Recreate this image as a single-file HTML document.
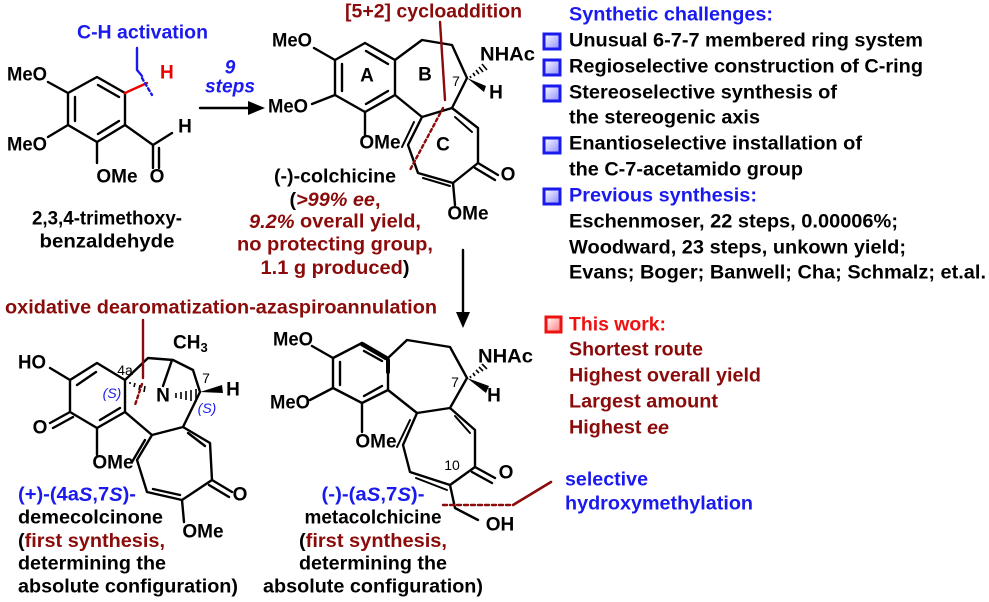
<!DOCTYPE html>
<html><head><meta charset="utf-8"><style>
html,body{margin:0;padding:0;background:#fff;}
svg{display:block;}
text{font-family:"Liberation Sans",Arial,sans-serif;font-weight:bold;font-size:19px;dominant-baseline:central;}
.b{fill:#1a1aee}.r{fill:#8b0a0a}.k{fill:#000}
.s{font-size:14px;font-weight:normal}
</style></head><body>
<svg width="989" height="602" viewBox="0 0 989 602" xmlns="http://www.w3.org/2000/svg">
<defs>
<linearGradient id="gb" x1="0" y1="0" x2="1" y2="1"><stop offset="0" stop-color="#fff"/><stop offset="1" stop-color="#8a8aff"/></linearGradient>
<linearGradient id="gr" x1="0" y1="0" x2="1" y2="1"><stop offset="0" stop-color="#fff"/><stop offset="1" stop-color="#ff7a7a"/></linearGradient>
</defs>
<g stroke="#000" stroke-width="2.4" fill="none" stroke-linecap="round" stroke-linejoin="round">
<path d="M97,77 L125,93 L125,125 L97,142 L68,125 L68,93 Z"/>
<path d="M98,85 L119,97 M119,121 L98,134 M75,97 L75,121"/>
<path d="M68,93 L48,82 M68,125 L48,137 M97,142 L97,163 M125,125 L153,145 L172,133 M153,145 L153,168 M159,148 L159,168"/>
<path d="M200,108 L252,108"/>
<path d="M365,43 L395,60 L395,95 L365,112 L335,95 L335,60 Z"/>
<path d="M366,51 L388,64 M388,91 L366,104 M342,64 L342,91"/>
<path d="M335,60 L314,48 M335,95 L312,104 M365,112 L365,135"/>
<path d="M395,60 L422,40 L452,45 L467,78 L452,108 L422,117 L395,95"/>
<path d="M422,117 L408,145 L418,173 L453,183 L478,163 L478,128 L452,108"/>
<path d="M414,122 L402,147 M455,117 L472,132 M423,178 L450,186" stroke-width="2"/>
<path d="M478,163 L498,175 M475,168 L495,180" />
<path d="M453,183 L455,205"/>
<path d="M463,250 L463,318"/>
<path d="M70,380 L97,363 L125,380 L125,412 L97,428 L70,412 Z"/>
<path d="M77,385 L96,372 M120,408 L100,420"/>
<path d="M70,380 L50,368 M70,412 L50,423 M73,417 L53,428 M97,428 L97,455"/>
<path d="M125,380 L148,358 L173,360 L193,370 L200,392 L183,427 L152,435 L125,412"/>
<path d="M163,386 L172,360"/>
<path d="M152,435 L137,460 L147,492 L182,500 L212,480 L210,443 L183,427"/>
<path d="M145,440 L132,462 M153,489 L180,495 M188,433 L205,446"/>
<path d="M212,480 L232,492 M209,485 L229,497 M182,500 L184,522"/>
<path d="M362,343 L388,358 L388,390 L362,403 L333,388 L333,358 Z"/>
<path d="M364,351 L382,361 M382,386 L364,396 M340,362 L340,385"/>
<path d="M333,358 L312,346 M333,388 L310,400 M362,403 L362,432"/>
<path d="M388,358 L407,340 L450,347 L467,378 L450,408 L417,413 L388,390"/>
<path d="M417,413 L403,445 L410,472 L450,485 L475,467 L475,430 L450,408"/>
<path d="M410,420 L397,447 M416,478 L447,490 M455,416 L470,433" stroke-width="2"/>
<path d="M475,467 L495,478 M472,472 L492,483 M450,485 L455,508 L478,520"/>
<path d="M362,344 L386,358" stroke-width="4.5"/>
<path d="M388,360 L388,372" stroke-width="4"/>
</g>
<g fill="#000">
<polygon points="467,78 486,86 484,92"/>
<polygon points="467,378 489,386 486,393"/>
<polygon points="200,392 222,385 223,393"/>
</g>
<g stroke="#000" stroke-width="1.6">
<path d="M470,76 L471,78 M473,73 L475,76 M476,70 L479,74 M479,67 L483,72 M482,64 L487,70"/>
<path d="M470,376 L471,378 M473,373 L475,376 M476,370 L479,373 M479,367 L483,371 M482,364 L487,369"/>
<path d="M176,393 L176,398 M181,392 L181,399 M186,391 L186,400 M191,390 L191,401 M196,389 L196,402"/>
<path d="M130,382 L130,384 M135,383 L134,387 M140,385 L139,390 M145,386 L144,392"/>
</g>
<g fill="none" stroke-linecap="round">
<path d="M125,93 L147,83" stroke="#e00" stroke-width="2.4"/>
<path d="M137,48 L137,70 L142,76" stroke="#1a1aee" stroke-width="2.4"/>
<path d="M142,78 L152,95" stroke="#1a1aee" stroke-width="2.4" stroke-dasharray="3,3"/>
<path d="M440,22 L445,100" stroke="#8b0a0a" stroke-width="2.4"/>
<path d="M443,108 L410,170" stroke="#8b0a0a" stroke-width="2.4" stroke-dasharray="3,3"/>
<path d="M143,320 L143,378" stroke="#8b0a0a" stroke-width="2.4"/>
<path d="M142,384 L135,405" stroke="#8b0a0a" stroke-width="2.4" stroke-dasharray="3,3"/>
<path d="M443,505 L513,505" stroke="#8b0a0a" stroke-width="2.4" stroke-dasharray="4,3"/>
<path d="M513,505 L551,482" stroke="#8b0a0a" stroke-width="2.6"/>
</g>
<polygon points="265,108 248,101 248,115" fill="#000"/>
<polygon points="463,328 456,312 470,312" fill="#000"/>
<g stroke="#1a1aee" stroke-width="3" fill="url(#gb)">
<rect x="544" y="34" width="16" height="15"/>
<rect x="544" y="60" width="16" height="15"/>
<rect x="544" y="86" width="16" height="15"/>
<rect x="544" y="138" width="16" height="15"/>
<rect x="544" y="189" width="16" height="15"/>
</g>
<rect x="546" y="317" width="15" height="15" stroke="#ee1111" stroke-width="3" fill="url(#gr)"/>

<text x="77" y="33" class="b" textLength="131" lengthAdjust="spacingAndGlyphs">C-H activation</text>
<text x="160" y="73" fill="#e00">H</text>
<text x="7" y="75" class="k" textLength="40" lengthAdjust="spacingAndGlyphs">MeO</text>
<text x="7" y="145" class="k" textLength="40" lengthAdjust="spacingAndGlyphs">MeO</text>
<text x="117" y="177" class="k" text-anchor="middle">OMe</text>
<text x="157" y="177" class="k" text-anchor="middle">O</text>
<text x="185" y="127" class="k" text-anchor="middle">H</text>
<text x="230" y="68" class="b" text-anchor="middle" font-style="italic">9</text>
<text x="230" y="87" class="b" text-anchor="middle" font-style="italic" textLength="50" lengthAdjust="spacingAndGlyphs">steps</text>
<text x="107" y="219" class="k" text-anchor="middle" textLength="150" lengthAdjust="spacingAndGlyphs">2,3,4-trimethoxy-</text>
<text x="107" y="242" class="k" text-anchor="middle" textLength="135" lengthAdjust="spacingAndGlyphs">benzaldehyde</text>

<text x="345" y="12" class="r" textLength="177" lengthAdjust="spacingAndGlyphs">[5+2] cycloaddition</text>
<text x="272" y="41" class="k" textLength="40" lengthAdjust="spacingAndGlyphs">MeO</text>
<text x="268" y="107" class="k" textLength="40" lengthAdjust="spacingAndGlyphs">MeO</text>
<text x="380" y="143" class="k" text-anchor="middle">OMe</text>
<text x="367" y="76" class="k" text-anchor="middle">A</text>
<text x="425" y="75" class="k" text-anchor="middle">B</text>
<text x="443" y="145" class="k" text-anchor="middle">C</text>
<text x="456" y="81" class="s" text-anchor="middle">7</text>
<text x="480" y="55" class="k" textLength="55" lengthAdjust="spacingAndGlyphs">NHAc</text>
<text x="496" y="93" class="k" text-anchor="middle">H</text>
<text x="508" y="175" class="k" text-anchor="middle">O</text>
<text x="468" y="214" class="k" text-anchor="middle">OMe</text>
<text x="335" y="177" class="k" text-anchor="middle" textLength="122" lengthAdjust="spacingAndGlyphs">(-)-colchicine</text>
<text x="335" y="200" text-anchor="middle" textLength="91" lengthAdjust="spacingAndGlyphs"><tspan class="k">(</tspan><tspan class="r" font-style="italic">&gt;99% ee</tspan><tspan class="r">,</tspan></text>
<text x="335" y="222" class="r" text-anchor="middle" textLength="172" lengthAdjust="spacingAndGlyphs"><tspan font-style="italic">9.2%</tspan> overall yield,</text>
<text x="335" y="245" class="r" text-anchor="middle" textLength="196" lengthAdjust="spacingAndGlyphs">no protecting group,</text>
<text x="335" y="268" text-anchor="middle" textLength="149" lengthAdjust="spacingAndGlyphs"><tspan class="r">1.1 g produced</tspan><tspan class="k">)</tspan></text>

<text x="569" y="15" class="b" textLength="204" lengthAdjust="spacingAndGlyphs">Synthetic challenges:</text>
<text x="569" y="41" class="k" textLength="354" lengthAdjust="spacingAndGlyphs">Unusual 6-7-7 membered ring system</text>
<text x="569" y="67" class="k" textLength="354" lengthAdjust="spacingAndGlyphs">Regioselective construction of C-ring</text>
<text x="569" y="93" class="k" textLength="268" lengthAdjust="spacingAndGlyphs">Stereoselective synthesis of</text>
<text x="569" y="118" class="k" textLength="191" lengthAdjust="spacingAndGlyphs">the stereogenic axis</text>
<text x="569" y="144" class="k" textLength="293" lengthAdjust="spacingAndGlyphs">Enantioselective installation of</text>
<text x="569" y="170" class="k" textLength="234" lengthAdjust="spacingAndGlyphs">the C-7-acetamido group</text>
<text x="569" y="196" class="b" textLength="188" lengthAdjust="spacingAndGlyphs">Previous synthesis:</text>
<text x="569" y="222" class="k" textLength="329" lengthAdjust="spacingAndGlyphs">Eschenmoser, 22 steps, 0.00006%;</text>
<text x="569" y="248" class="k" textLength="337" lengthAdjust="spacingAndGlyphs">Woodward, 23 steps, unkown yield;</text>
<text x="569" y="273" class="k" textLength="417" lengthAdjust="spacingAndGlyphs">Evans; Boger; Banwell; Cha; Schmalz; et.al.</text>

<text x="569" y="325" fill="#ee1111" textLength="97" lengthAdjust="spacingAndGlyphs">This work:</text>
<text x="569" y="350" class="r" textLength="134" lengthAdjust="spacingAndGlyphs">Shortest route</text>
<text x="569" y="376" class="r" textLength="192" lengthAdjust="spacingAndGlyphs">Highest overall yield</text>
<text x="569" y="402" class="r" textLength="149" lengthAdjust="spacingAndGlyphs">Largest amount</text>
<text x="569" y="428" class="r" textLength="100" lengthAdjust="spacingAndGlyphs">Highest <tspan font-style="italic">ee</tspan></text>
<text x="565" y="480" class="b" textLength="83" lengthAdjust="spacingAndGlyphs">selective</text>
<text x="565" y="504" class="b" textLength="188" lengthAdjust="spacingAndGlyphs">hydroxymethylation</text>

<text x="5" y="308" class="r" textLength="432" lengthAdjust="spacingAndGlyphs">oxidative dearomatization-azaspiroannulation</text>
<text x="18" y="363" class="k" textLength="28" lengthAdjust="spacingAndGlyphs">HO</text>
<text x="40" y="428" class="k" text-anchor="middle">O</text>
<text x="113" y="463" class="k" text-anchor="middle">OMe</text>
<text x="125" y="370" class="s" text-anchor="middle">4a</text>
<text x="112" y="393" class="s b" text-anchor="middle" font-style="italic">(S)</text>
<text x="173" y="343" class="k">CH<tspan font-size="13" dy="4">3</tspan></text>
<text x="163" y="396" class="k" text-anchor="middle">N</text>
<text x="206" y="378" class="s" text-anchor="middle">7</text>
<text x="207" y="408" class="s b" text-anchor="middle" font-style="italic">(S)</text>
<text x="233" y="390" class="k" text-anchor="middle">H</text>
<text x="240" y="495" class="k" text-anchor="middle">O</text>
<text x="203" y="532" class="k" text-anchor="middle">OMe</text>
<text x="18" y="495" class="b" textLength="118" lengthAdjust="spacingAndGlyphs">(+)-(4a<tspan font-style="italic">S</tspan>,7<tspan font-style="italic">S</tspan>)-</text>
<text x="18" y="518" class="k" textLength="145" lengthAdjust="spacingAndGlyphs">demecolcinone</text>
<text x="18" y="541" textLength="147" lengthAdjust="spacingAndGlyphs"><tspan class="k">(</tspan><tspan class="r">first synthesis,</tspan></text>
<text x="18" y="564" class="k" textLength="148" lengthAdjust="spacingAndGlyphs">determining the</text>
<text x="18" y="587" class="k" textLength="220" lengthAdjust="spacingAndGlyphs">absolute configuration)</text>

<text x="273" y="340" class="k" textLength="40" lengthAdjust="spacingAndGlyphs">MeO</text>
<text x="270" y="403" class="k" textLength="40" lengthAdjust="spacingAndGlyphs">MeO</text>
<text x="376" y="442" class="k" text-anchor="middle">OMe</text>
<text x="478" y="357" class="k" textLength="55" lengthAdjust="spacingAndGlyphs">NHAc</text>
<text x="455" y="382" class="s" text-anchor="middle">7</text>
<text x="494" y="396" class="k" text-anchor="middle">H</text>
<text x="452" y="465" class="s" text-anchor="middle">10</text>
<text x="506" y="473" class="k" text-anchor="middle">O</text>
<text x="500" y="525" class="k" text-anchor="middle">OH</text>
<text x="373" y="495" class="b" text-anchor="middle" textLength="103" lengthAdjust="spacingAndGlyphs">(-)-(a<tspan font-style="italic">S</tspan>,7<tspan font-style="italic">S</tspan>)-</text>
<text x="373" y="518" class="k" text-anchor="middle" textLength="137" lengthAdjust="spacingAndGlyphs">metacolchicine</text>
<text x="373" y="541" text-anchor="middle" textLength="148" lengthAdjust="spacingAndGlyphs"><tspan class="k">(</tspan><tspan class="r">first synthesis,</tspan></text>
<text x="373" y="564" class="k" text-anchor="middle" textLength="148" lengthAdjust="spacingAndGlyphs">determining the</text>
<text x="373" y="587" class="k" text-anchor="middle" textLength="220" lengthAdjust="spacingAndGlyphs">absolute configuration)</text>
</svg>
</body></html>
